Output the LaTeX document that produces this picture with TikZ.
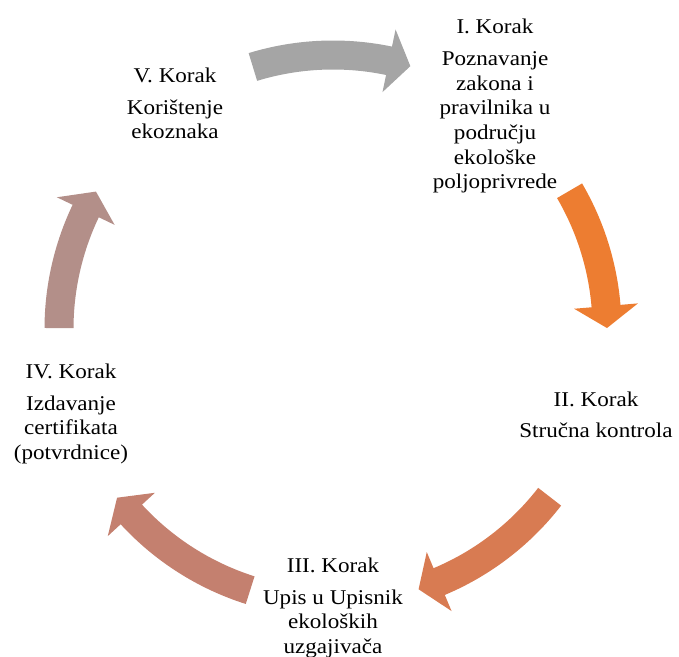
\documentclass[tikz,border=0pt]{standalone}
\usepackage{fontspec}
\setmainfont{Liberation Serif}[FakeStretch=1.1]
\usetikzlibrary{calc}
\definecolor{arrtop}{HTML}{A5A5A5}
\definecolor{arrright}{HTML}{ED7D31}
\definecolor{arrbr}{HTML}{D87B52}
\definecolor{arrbl}{HTML}{C4806F}
\definecolor{arrleft}{HTML}{B38F89}
% #1 tail angle, #2 tip angle, #3 colour
\newcommand\cyclearrow[3]{%
  \fill[#3] ($(C)+(#1:288.5)$) arc[start angle=#1, end angle=#2+4.6, radius=288.5]
    -- ($(C)+(#2+4.6:306)$) -- ($(C)+(#2:274)$) -- ($(C)+(#2+4.6:242)$)
    -- ($(C)+(#2+4.6:259.5)$) arc[start angle=#2+4.6, end angle=#1, radius=259.5] -- cycle;}
\begin{document}
\begin{tikzpicture}[x=1pt,y=1pt,
  steptext/.style={anchor=north, inner sep=0pt, align=center,
    font=\fontsize{21}{24.7}\selectfont}]
\clip (0,0) rectangle (679,656);
\coordinate (C) at (333,327);
\cyclearrow{107}{73.6}{arrtop}
\cyclearrow{30.3}{0.2}{arrright}
\cyclearrow{-37.75}{-71.8}{arrbr}
\cyclearrow{252.4}{218}{arrbl}
\cyclearrow{179.8}{149.9}{arrleft}
\node[steptext] (s1) at (495,637) {I. Korak\\[7pt]Poznavanje\\zakona i\\pravilnika u\\području\\ekološke\\poljoprivrede};
\node[steptext] (s2) at (596,264.6) {II. Korak\\[7pt]Stručna kontrola};
\node[steptext] (s3) at (333,98.3) {III. Korak\\[7pt]Upis u Upisnik\\ekoloških\\uzgajivača};
\node[steptext] (s4) at (71,292.3) {IV. Korak\\[7pt]Izdavanje\\certifikata\\(potvrdnice)};
\node[steptext] (s5) at (175,588.3) {V. Korak\\[7pt]Korištenje\\ekoznaka};
\end{tikzpicture}
\end{document}
